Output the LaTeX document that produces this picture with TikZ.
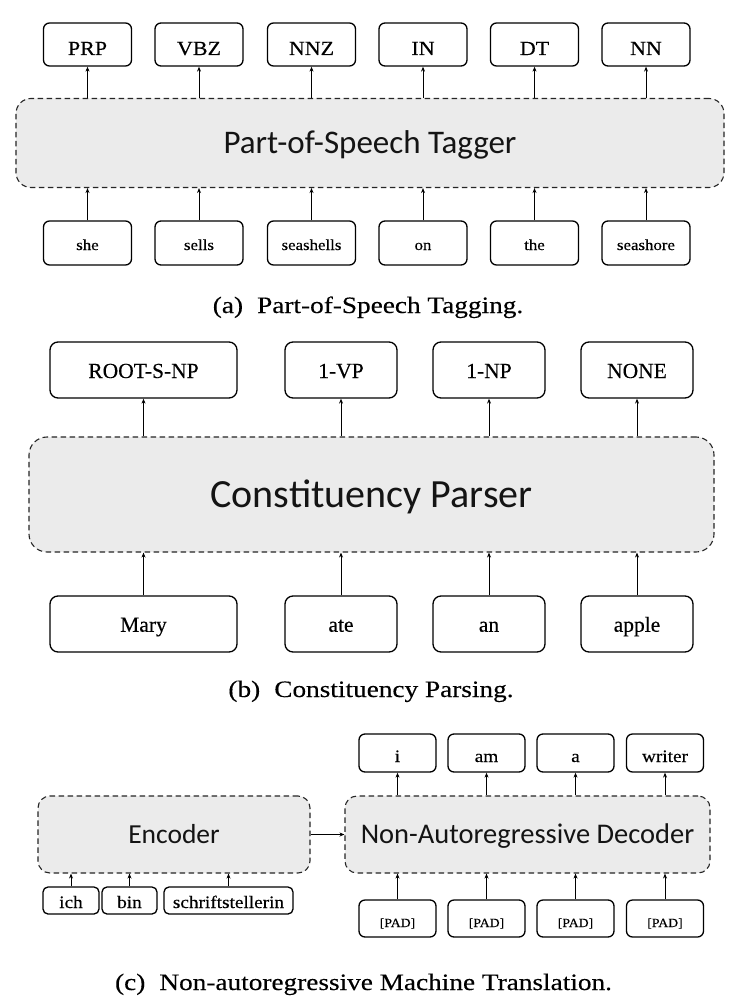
\documentclass[tikz,border=0pt]{standalone}
\usepackage{fontspec}
\setmainfont{Liberation Serif}[FakeBold=0.3]
\newfontfamily\serifwide{Liberation Serif}[FakeStretch=1.1,FakeBold=0.3]
\newfontfamily\capfont{Liberation Serif}[FakeStretch=1.16,FakeBold=0.3]
\newfontfamily\modfont{Carlito}
\usetikzlibrary{arrows.meta}
\begin{document}
\begin{tikzpicture}[x=1pt,y=-1pt,
  tok/.style={draw=black, line width=1.3pt, rounded corners=6pt, inner sep=0pt, text=black, text depth=0pt},
  tokb/.style={tok, rounded corners=8pt},
  mod/.style={draw=black!85, line width=1.1pt, dash pattern=on 5.5pt off 3.5pt, fill=black!8, rounded corners=#1, inner sep=0pt, text=black!92, text depth=0pt},
  arr/.style={-{Stealth[length=5pt,width=4pt]}, line width=0.9pt},
  captxt/.style={anchor=base, inner sep=0pt, font=\capfont\fontsize{23.5}{26}\selectfont}]
\useasboundingbox (0,0) rectangle (730,1008);
\fill[white] (0,0) rectangle (730,1008);

% ---------- (a) ----------
\node[mod=15pt, minimum width=708pt, minimum height=89pt, text height=21.3pt, font=\modfont\fontsize{33}{36}\selectfont] (tag) at (370,143) {Part-of-Speech Tagger};
\foreach \n/\x/\t/\w in {1/87.5/PRP/she, 2/199/VBZ/sells, 3/311.5/NNZ/seashells, 4/423/IN/on, 5/534.5/DT/the, 6/646/NN/seashore}{
  \node[tok, minimum width=88pt, minimum height=43pt, text height=21pt, font=\serifwide\fontsize{20}{22}\selectfont] (at\n) at (\x,44.5) {\t};
  \node[tok, minimum width=88pt, minimum height=44pt, text height=14pt, font=\serifwide\fontsize{15.3}{17}\selectfont] (aw\n) at (\x,243) {\w};
  \draw[arr] (aw\n.north) -- (aw\n.north |- tag.south);
  \draw[arr] (at\n.south |- tag.north) -- (at\n.south);
}
\node[captxt] (capa) at (368,313) {(a)\hspace{0.6em}Part-of-Speech Tagging.};

% ---------- (b) ----------
\node[mod=18pt, minimum width=685pt, minimum height=115pt, text height=26pt, font=\modfont\fontsize{40}{44}\selectfont] (par) at (371.5,494.5) {Constituency Parser};
\foreach \n/\x/\w/\t/\i in {1/143.5/187/ROOT-S-NP/Mary, 2/341/112/1-VP/ate, 3/489/112/1-NP/an, 4/637/112/NONE/apple}{
  \node[tokb, minimum width=\w pt, minimum height=56pt, text height=16pt, font=\fontsize{21.5}{24}\selectfont] (bt\n) at (\x,370) {\t};
  \node[tokb, minimum width=\w pt, minimum height=56pt, text height=15.5pt, font=\fontsize{21.5}{24}\selectfont] (bw\n) at (\x,624) {\i};
  \draw[arr] (bw\n.north) -- (bw\n.north |- par.south);
  \draw[arr] (bt\n.south |- par.north) -- (bt\n.south);
}
\node[captxt] (capb) at (371,697) {(b)\hspace{0.6em}Constituency Parsing.};

% ---------- (c) ----------
\node[mod=12pt, minimum width=272pt, minimum height=77pt, text height=17.7pt, font=\modfont\fontsize{27.5}{30}\selectfont] (enc) at (174,834.5) {Encoder};
\node[mod=12pt, minimum width=365pt, minimum height=77pt, text height=18.4pt, font=\modfont\fontsize{28.5}{31}\selectfont] (dec) at (527.5,834.5) {Non-Autoregressive Decoder};
\foreach \n/\x/\w/\t in {1/71/56/ich, 2/129.5/55/bin, 3/228.5/129/schriftstellerin}{
  \node[tok, rounded corners=5pt, minimum width=\w pt, minimum height=27pt, text height=15pt, font=\serifwide\fontsize{17.5}{19}\selectfont] (cw\n) at (\x,900.5) {\t};
  \draw[arr] (cw\n.north) -- (cw\n.north |- enc.south);
}
\foreach \n/\x/\t in {1/397.5/i, 2/486.5/am, 3/575.5/a, 4/665/writer}{
  \node[tok, minimum width=77pt, minimum height=38pt, text height=18pt, font=\serifwide\fontsize{17.5}{19}\selectfont] (ct\n) at (\x,753) {\t};
  \node[tok, minimum width=77pt, minimum height=37pt, text height=17pt, font=\serifwide\fontsize{12.5}{14}\selectfont] (cp\n) at (\x,918.5) {[PAD]};
  \draw[arr] (cp\n.north) -- (cp\n.north |- dec.south);
  \draw[arr] (ct\n.south |- dec.north) -- (ct\n.south);
}
\draw[arr] (enc.east) -- (dec.west);
\node[captxt] (capc) at (363.5,990) {(c)\hspace{0.6em}Non-autoregressive Machine Translation.};
\end{tikzpicture}
\end{document}
